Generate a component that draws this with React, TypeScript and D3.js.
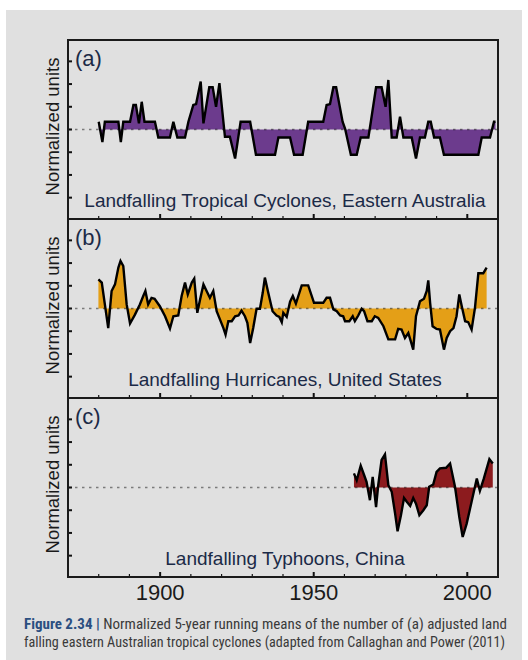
import { useMemo } from "react";
import * as d3 from "d3";

// (a) eastern Australia
const cycloneYears = [1880, 1881.2, 1882, 1886.4, 1887.2, 1888, 1890.2, 1891.3, 1892.1, 1893.1, 1894, 1894.9, 1898.3, 1899.4, 1903.2, 1904.3, 1905.6, 1908.1, 1909.2, 1910.8, 1911.7, 1913.2, 1914.1, 1916, 1917.1, 1918.2, 1919.3, 1921.1, 1922.7, 1924.4, 1926.2, 1929.3, 1931.2, 1937.4, 1938.5, 1942.3, 1943.6, 1946.4, 1948.2, 1953.1, 1954.2, 1955.3, 1956.4, 1957.3, 1959.4, 1960.2, 1962.1, 1964, 1965.3, 1967.8, 1968.6, 1970.3, 1972.1, 1973.4, 1974.3, 1975.4, 1977, 1978.1, 1979.2, 1981.9, 1983.3, 1984.6, 1986.2, 1987.3, 1988.1, 1989.2, 1991.1, 1992.4, 2003.6, 2004.7, 2007.4, 2008.7, 2009.2];
const cycloneValues = [0.34, -0.55, 0.34, 0.34, -0.55, 0.34, 0.34, 1.08, 1.08, 0.27, 1.22, 0.34, 0.34, -0.35, -0.35, 0.34, -0.35, -0.35, 0.34, 1.08, 1.12, 2.11, 0.27, 1.86, 1.86, 1.0, 2.04, -0.32, -0.32, -1.28, 0.34, 0.34, -1.11, -1.11, -0.35, -0.35, -1.11, -1.11, 0.34, 0.34, 1.08, 1.12, 1.86, 1.86, 0.34, 0.04, -1.11, -1.11, -0.35, -0.35, 0.34, 1.86, 1.86, 1.0, 2.18, -0.35, -0.35, 0.56, -0.35, -0.35, -1.28, -0.35, -0.35, 0.34, 0.34, -0.35, -0.35, -1.11, -1.11, -0.35, -0.35, 0.34, 0.34];

// (b) United States
const hurricaneYears = [1879.9, 1881, 1882, 1883.1, 1884.2, 1885.3, 1886.4, 1887.1, 1888, 1889.1, 1890.2, 1891.8, 1893.4, 1894.5, 1895.2, 1896.1, 1897.2, 1898.2, 1899.9, 1901.6, 1903.2, 1904.3, 1905.9, 1907, 1908.1, 1909, 1910.3, 1911.1, 1912.1, 1913, 1914.1, 1915.4, 1916.2, 1917.3, 1918.4, 1919.5, 1920.6, 1921.3, 1922.2, 1923.3, 1924.4, 1925.5, 1926.5, 1927.6, 1928.4, 1929.3, 1930.3, 1931.4, 1932.5, 1933.4, 1934.1, 1935.2, 1936.6, 1937.9, 1938.8, 1939.6, 1940.1, 1941.2, 1942.3, 1943.2, 1944.2, 1946.1, 1948.2, 1950.1, 1953.1, 1954.2, 1955.3, 1956.4, 1957.5, 1958.6, 1959.6, 1960.2, 1961.6, 1962.7, 1963.4, 1964.5, 1965.6, 1966.4, 1967.5, 1968.9, 1969.9, 1971, 1972.7, 1974.3, 1976.5, 1977.5, 1978.6, 1979.7, 1980.8, 1981.6, 1982.4, 1983.3, 1984.6, 1985.9, 1986.8, 1987.3, 1987.9, 1988.7, 1990, 1991.1, 1992.4, 1993.3, 1994.4, 1995.5, 1996.5, 1997.4, 1998.2, 1999.3, 2000.3, 2001.4, 2002.5, 2003.6, 2005.2, 2006.3];
const hurricaneValues = [1.28, 1.14, 0.18, -0.86, 0.77, 1.06, 1.8, 2.09, 1.87, 0.18, -0.66, -0.27, 0.18, 0.55, 0.77, 0.18, 0.47, 0.43, 0.1, -0.34, -0.88, -0.34, -0.31, 0.55, 1.14, 0.62, 1.14, 1.31, -0.19, 0.4, 1.06, 0.69, 0.47, 0.77, -0.12, -0.49, -0.86, -1.15, -0.56, -0.56, -0.34, -0.31, -0.09, -0.34, -0.63, -1.52, -0.86, -0.01, -0.01, 0.69, 1.36, 0.69, -0.12, -0.31, -0.37, -0.6, -0.19, -0.37, 0.3, 0.55, 0.22, 1.02, 1.02, 0.25, 0.25, 0.47, 0.47, -0.04, -0.12, -0.31, -0.34, -0.56, -0.56, -0.34, -0.56, -0.31, -0.01, -0.12, -0.56, -0.56, -0.34, -0.41, -0.78, -1.36, -1.36, -0.9, -0.93, -1.3, -1.08, -1.44, -1.81, -0.34, 0.32, 0.43, 0.77, 1.24, 0.25, -0.78, -0.9, -0.93, -1.81, -1.3, -1.0, -0.86, -0.34, 0.62, 0.1, -0.56, -0.6, -0.93, 0.03, 1.55, 1.55, 1.8];

// (c) China
const typhoonYears = [1963.1, 1964, 1965.3, 1966.4, 1967.2, 1968.3, 1969.2, 1970.3, 1971, 1972.1, 1973.2, 1974.3, 1975.4, 1976.5, 1977.3, 1978.4, 1979.4, 1980.3, 1981.4, 1982.4, 1983.3, 1984.4, 1985.7, 1986.8, 1987.6, 1988.9, 1990, 1991.1, 1993.1, 1994.4, 1996, 1997.4, 1998.5, 1999.8, 2001.4, 2003.1, 2004.1, 2005.4, 2007.2, 2008.3];
const typhoonValues = [0.62, 0.32, 0.96, 0.55, 0.25, -0.56, 0.47, -0.86, 0.1, 1.21, 1.46, 0.1, -0.19, -1.15, -1.93, -1.22, -0.46, -0.63, -0.81, -0.46, -0.71, -1.22, -1.0, -0.78, 0.03, 0.13, 0.69, 0.84, 0.87, 1.06, 0.03, -1.3, -2.18, -1.59, -0.63, 0.4, -0.15, 0.4, 1.25, 1.06];

const panelLetters = ["(a)", "(b)", "(c)"];
const panelTitles = [
    "Landfalling Tropical Cyclones, Eastern Australia",
    "Landfalling Hurricanes, United States",
    "Landfalling Typhoons, China",
];
const panelColors = ["#6c3b8d", "#e49f17", "#8c1b1e"];
const yTickValues = [-3, -2, -1, 0, 1, 2, 3];
const xMinorTicks = [1880, 1890, 1900, 1910, 1920, 1930, 1940, 1950, 1960, 1970, 1980, 1990, 2000];
const xMajorTicks = [1900, 1950, 2000];

const captionLine1 = "Normalized 5-year running means of the number of (a) adjusted land";
const captionLine2 = "falling eastern Australian tropical cyclones (adapted from Callaghan and Power (2011)";

const left = 68;
const right = 498;
const panelTops = [40, 219, 398];
const panelHeight = 179;
const labelFont = "'Liberation Sans', Arial, sans-serif";
const captionFont = "'Liberation Sans Narrow', 'Roboto Condensed', 'Liberation Sans', sans-serif";

export default function App() {
    const series = [
        cycloneYears.map((y, i) => ({ year: y, value: cycloneValues[i] })),
        hurricaneYears.map((y, i) => ({ year: y, value: hurricaneValues[i] })),
        typhoonYears.map((y, i) => ({ year: y, value: typhoonValues[i] })),
    ];

    const xScale = useMemo(() => d3.scaleLinear().domain([1870, 2010]).range([left, right]), []);
    const bottom = panelTops[2] + panelHeight;

    return (
        <svg width={528} height={660} style={{ position: "absolute", left: 0, top: 0 }}>
            <rect x={0} y={0} width={528} height={660} fill="#ffffff" />
            <rect x={6} y={10} width={516} height={650} fill="#e0e0e0" />

            {series.map((data, i) => (
                <Panel
                    key={i}
                    data={data}
                    top={panelTops[i]}
                    xScale={xScale}
                    color={panelColors[i]}
                    letter={panelLetters[i]}
                    title={panelTitles[i]}
                />
            ))}

            {xMajorTicks.map((tick) => (
                <text
                    key={`xl-${tick}`}
                    x={xScale(tick)}
                    y={bottom + 23}
                    textAnchor="middle"
                    fontSize="22"
                    fontFamily={labelFont}
                    fill="#1a1a1a"
                >
                    {tick}
                </text>
            ))}

            <text x={24} y={629} fontSize="14" fontFamily={captionFont} textLength={483} lengthAdjust="spacingAndGlyphs">
                <tspan fill="#2b4f80" fontWeight="bold">Figure 2.34 |</tspan>
                <tspan fill="#3a3a3a">{"  " + captionLine1}</tspan>
            </text>
            <text x={24} y={647} fontSize="14" fill="#3a3a3a" fontFamily={captionFont} textLength={481} lengthAdjust="spacingAndGlyphs">
                {captionLine2}
            </text>
        </svg>
    );
}

function Panel({ data, top, xScale, color, letter, title }) {
    const bottom = top + panelHeight;
    const yScale = d3.scaleLinear().domain([-3.94, 3.94]).range([bottom, top]);

    const area = d3.area()
        .x((d) => xScale(d.year))
        .y0(yScale(0))
        .y1((d) => yScale(d.value));
    const line = d3.line()
        .x((d) => xScale(d.year))
        .y((d) => yScale(d.value));

    const mid = (top + bottom) / 2;

    return (
        <g>
            <path d={area(data)} fill={color} />
            <line
                x1={left}
                x2={right}
                y1={yScale(0)}
                y2={yScale(0)}
                stroke="#000"
                strokeOpacity="0.45"
                strokeWidth="1.6"
                strokeDasharray="2.5,4.5"
            />
            <path d={line(data)} fill="none" stroke="#000" strokeWidth="2.4" strokeLinejoin="miter" />

            {yTickValues.map((tick) => (
                <line key={`y-${tick}`} x1={left} x2={left + 4} y1={yScale(tick)} y2={yScale(tick)} stroke="#111" strokeWidth="2" />
            ))}
            {xMinorTicks.map((tick) => (
                <line
                    key={`x-${tick}`}
                    x1={xScale(tick)}
                    x2={xScale(tick)}
                    y1={bottom}
                    y2={bottom - (xMajorTicks.includes(tick) ? 5 : 3)}
                    stroke="#111"
                    strokeWidth={xMajorTicks.includes(tick) ? 2 : 1.2}
                />
            ))}

            <rect x={left} y={top} width={right - left} height={panelHeight} fill="none" stroke="#1a1a1a" strokeWidth="2" />

            <text x={left + 7} y={top + 26} fontSize="22" fontFamily={labelFont} fill="#1b2a47">{letter}</text>
            <text x={(left + right) / 2 + 2} y={bottom - 12} textAnchor="middle" fontSize="19" fontFamily={labelFont} fill="#1b2a47">{title}</text>
            <text
                transform={`translate(59, ${mid - 3}) rotate(-90)`}
                textAnchor="middle"
                fontSize="18.5"
                fontFamily={labelFont}
                fill="#1a1a1a"
            >
                Normalized units
            </text>
        </g>
    );
}
